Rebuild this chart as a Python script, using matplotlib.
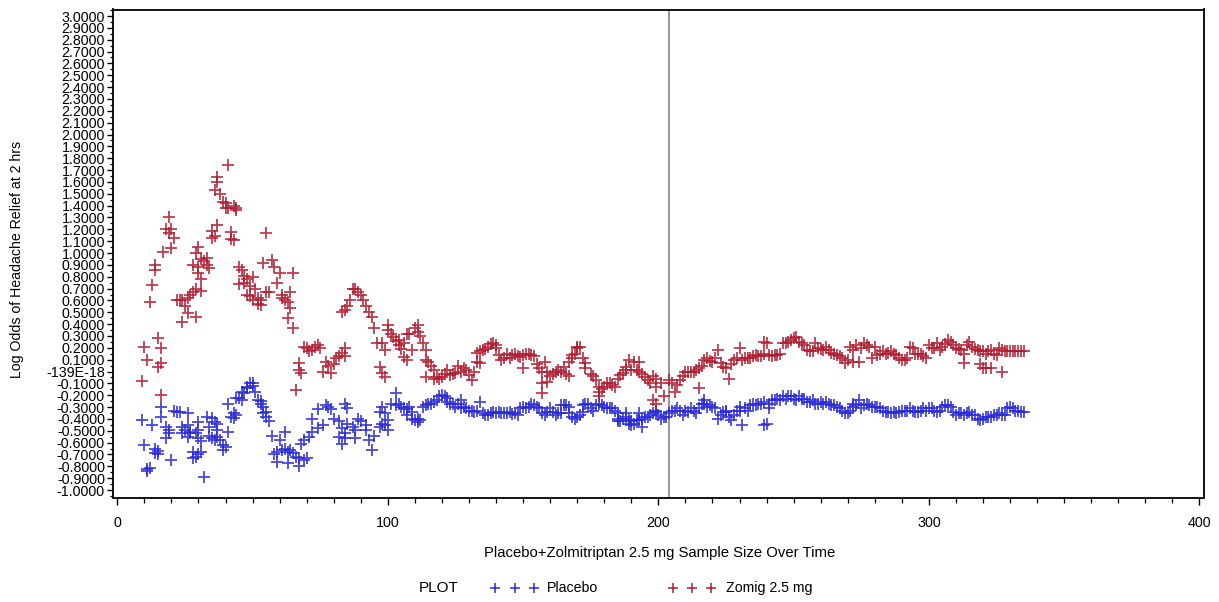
import matplotlib
matplotlib.use("Agg")
import matplotlib.pyplot as plt
from matplotlib.lines import Line2D
from matplotlib.ticker import FixedLocator, FixedFormatter, MultipleLocator

plt.rcParams['font.family'] = ['Liberation Sans', 'DejaVu Sans']

# Sample size (n) at which each running log-odds estimate was computed
zomig_n = [
    9, 10, 11, 12, 13, 14, 14, 15, 15, 16,
    16, 16, 17, 18, 19, 19, 20, 20, 21, 22,
    23, 24, 24, 25, 26, 26, 27, 28, 28, 29,
    29, 29, 30, 30, 30, 31, 31, 31, 32, 33,
    33, 34, 35, 35, 36, 36, 37, 37, 37, 38,
    39, 40, 40, 41, 41, 42, 42, 43, 43, 44,
    44, 45, 45, 46, 47, 47, 48, 48, 49, 49,
    50, 50, 51, 52, 52, 53, 53, 54, 55, 55,
    56, 57, 58, 59, 60, 61, 61, 62, 63, 63,
    64, 64, 65, 65, 66, 67, 67, 68, 69, 70,
    71, 72, 73, 74, 75, 76, 77, 78, 79, 80,
    81, 82, 83, 83, 84, 84, 84, 85, 86, 87,
    88, 89, 90, 91, 92, 93, 94, 95, 96, 97,
    98, 98, 99, 99, 100, 100, 101, 102, 103, 104,
    104, 105, 106, 106, 107, 107, 108, 109, 110, 111,
    111, 112, 113, 114, 114, 114, 115, 116, 117, 117,
    118, 119, 120, 121, 122, 123, 124, 125, 126, 127,
    128, 129, 130, 131, 132, 133, 133, 134, 134, 135,
    136, 137, 138, 139, 140, 140, 141, 142, 143, 144,
    145, 146, 147, 148, 149, 150, 150, 151, 152, 153,
    154, 155, 156, 157, 157, 157, 158, 159, 159, 160,
    161, 162, 163, 164, 165, 166, 167, 167, 168, 168,
    169, 170, 170, 171, 172, 173, 173, 175, 176, 177,
    178, 178, 178, 179, 180, 181, 182, 183, 184, 185,
    186, 187, 188, 188, 189, 190, 191, 192, 193, 193,
    194, 195, 196, 197, 198, 198, 199, 199, 199, 201,
    202, 204, 205, 206, 207, 208, 209, 210, 211, 212,
    213, 214, 215, 215, 216, 217, 218, 219, 220, 221,
    222, 223, 224, 225, 226, 227, 228, 229, 230, 231,
    232, 233, 234, 235, 236, 237, 238, 239, 239, 240,
    241, 242, 243, 244, 245, 246, 247, 248, 249, 250,
    251, 252, 253, 254, 255, 256, 257, 258, 259, 260,
    261, 262, 263, 264, 265, 266, 267, 268, 269, 270,
    271, 272, 272, 273, 274, 275, 276, 277, 278, 279,
    280, 281, 282, 283, 284, 285, 286, 287, 288, 289,
    290, 291, 292, 293, 294, 295, 296, 297, 298, 299,
    300, 301, 302, 303, 304, 305, 306, 307, 308, 309,
    310, 311, 312, 313, 313, 314, 315, 316, 317, 318,
    319, 319, 320, 320, 321, 321, 322, 323, 323, 324,
    325, 326, 327, 327, 328, 329, 330, 331, 332, 333,
    334, 335,
]
zomig_logodds = [
    -0.08, 0.21, 0.10, 0.59, 0.73, 0.90, 0.86, 0.28, 0.04, 0.20,
    0.07, -0.20, 1.01, 1.20, 1.30, 1.17, 1.04, 1.20, 1.13, 0.60,
    0.60, 0.42, 0.60, 0.55, 0.49, 0.62, 0.65, 0.67, 0.90, 1.00,
    0.70, 0.46, 1.05, 0.88, 0.83, 0.95, 0.78, 0.68, 0.93, 0.96,
    0.90, 0.87, 1.13, 1.19, 1.53, 1.14, 1.64, 1.60, 1.24, 1.50,
    1.43, 1.38, 1.42, 1.74, 1.38, 1.18, 1.12, 1.40, 1.11, 1.38,
    1.36, 0.88, 0.74, 0.86, 0.75, 0.81, 0.78, 0.65, 0.72, 0.64,
    0.80, 0.60, 0.70, 0.57, 0.62, 0.60, 0.56, 0.92, 1.17, 0.67,
    0.67, 0.94, 0.88, 0.75, 0.83, 0.65, 0.62, 0.60, 0.59, 0.45,
    0.67, 0.54, 0.83, 0.37, -0.16, 0.07, 0.01, -0.01, 0.21, 0.20,
    0.17, 0.18, 0.21, 0.22, 0.20, 0.00, 0.08, 0.05, -0.01, 0.06,
    0.11, 0.13, 0.16, 0.50, 0.20, 0.13, 0.52, 0.55, 0.60, 0.70,
    0.70, 0.67, 0.65, 0.60, 0.55, 0.50, 0.46, 0.37, 0.24, 0.04,
    -0.01, 0.24, -0.05, 0.18, 0.39, 0.35, 0.32, 0.29, 0.26, 0.27,
    0.22, 0.19, 0.24, 0.12, 0.10, 0.32, 0.32, 0.18, 0.37, 0.39,
    0.33, 0.30, 0.24, 0.10, 0.18, -0.05, 0.08, 0.05, 0.01, -0.06,
    -0.05, -0.06, -0.05, -0.02, 0.01, -0.03, -0.02, -0.01, 0.05, 0.00,
    0.03, 0.01, -0.03, -0.07, 0.00, 0.08, 0.16, 0.07, 0.17, 0.18,
    0.19, 0.21, 0.23, 0.24, 0.22, 0.20, 0.14, 0.10, 0.11, 0.15,
    0.11, 0.14, 0.15, 0.13, 0.12, 0.03, 0.14, 0.15, 0.15, 0.14,
    0.13, 0.06, 0.03, -0.10, -0.18, 0.00, 0.08, 0.00, -0.09, -0.04,
    -0.02, 0.00, 0.01, 0.00, 0.04, -0.02, -0.04, 0.08, 0.11, 0.14,
    0.15, 0.20, 0.21, 0.21, 0.11, 0.07, 0.03, -0.02, -0.04, -0.07,
    -0.13, -0.21, -0.17, -0.15, -0.13, -0.10, -0.10, -0.11, -0.13, -0.06,
    -0.03, -0.01, 0.01, 0.04, 0.10, 0.01, 0.08, 0.01, 0.08, 0.00,
    -0.02, -0.05, -0.07, -0.10, -0.04, -0.24, -0.06, -0.13, -0.27, -0.10,
    -0.21, -0.07, -0.10, -0.17, -0.11, -0.07, -0.04, 0.00, 0.00, 0.00,
    0.00, 0.01, -0.14, 0.03, 0.05, 0.10, 0.11, 0.09, 0.08, 0.11,
    0.18, 0.07, 0.04, 0.03, -0.06, 0.06, 0.10, 0.11, 0.20, 0.10,
    0.11, 0.11, 0.11, 0.13, 0.14, 0.13, 0.13, 0.15, 0.25, 0.24,
    0.14, 0.13, 0.14, 0.14, 0.15, 0.24, 0.24, 0.25, 0.27, 0.28,
    0.29, 0.25, 0.24, 0.22, 0.18, 0.17, 0.17, 0.24, 0.20, 0.19,
    0.18, 0.21, 0.18, 0.16, 0.15, 0.14, 0.13, 0.11, 0.07, 0.10,
    0.21, 0.08, 0.18, 0.22, 0.08, 0.20, 0.24, 0.22, 0.21, 0.11,
    0.21, 0.14, 0.15, 0.17, 0.15, 0.16, 0.17, 0.15, 0.14, 0.11,
    0.10, 0.10, 0.11, 0.21, 0.20, 0.15, 0.15, 0.15, 0.13, 0.11,
    0.22, 0.20, 0.20, 0.24, 0.18, 0.21, 0.23, 0.27, 0.25, 0.22,
    0.20, 0.19, 0.18, 0.15, 0.07, 0.22, 0.25, 0.21, 0.19, 0.18,
    0.17, 0.06, 0.17, 0.03, 0.15, 0.03, 0.17, 0.18, 0.03, 0.15,
    0.14, 0.20, 0.18, 0.00, 0.17, 0.17, 0.17, 0.17, 0.17, 0.17,
    0.17, 0.17,
]

placebo_n = [
    9, 10, 11, 11, 12, 13, 14, 14, 15, 15,
    16, 16, 18, 18, 19, 19, 20, 21, 22, 23,
    24, 24, 25, 26, 26, 26, 27, 27, 28, 28,
    29, 29, 30, 30, 30, 30, 31, 31, 32, 33,
    34, 34, 35, 35, 36, 36, 37, 37, 37, 38,
    39, 39, 40, 41, 41, 42, 43, 43, 44, 44,
    45, 46, 46, 47, 48, 48, 49, 50, 50, 51,
    52, 53, 53, 54, 54, 55, 55, 56, 57, 58,
    59, 59, 60, 61, 62, 62, 63, 63, 64, 65,
    66, 67, 67, 68, 69, 69, 70, 71, 72, 72,
    74, 74, 76, 77, 78, 79, 80, 82, 82, 83,
    83, 84, 84, 84, 85, 85, 87, 88, 88, 89,
    90, 92, 92, 93, 94, 95, 97, 97, 98, 98,
    99, 99, 100, 100, 101, 103, 103, 104, 105, 106,
    107, 107, 108, 109, 109, 110, 111, 111, 112, 113,
    114, 115, 116, 117, 118, 119, 120, 121, 122, 122,
    123, 124, 125, 126, 127, 127, 128, 129, 130, 131,
    132, 133, 134, 135, 136, 137, 138, 139, 140, 141,
    142, 143, 144, 145, 146, 147, 148, 149, 150, 151,
    152, 153, 154, 155, 156, 157, 158, 159, 160, 161,
    162, 163, 164, 164, 165, 166, 167, 167, 168, 169,
    170, 171, 172, 172, 173, 174, 175, 176, 177, 178,
    179, 180, 181, 182, 183, 184, 185, 185, 185, 186,
    187, 188, 188, 189, 189, 190, 190, 191, 192, 193,
    193, 194, 194, 195, 196, 197, 198, 199, 199, 200,
    201, 202, 203, 204, 205, 206, 207, 208, 209, 210,
    211, 212, 213, 214, 215, 216, 217, 217, 218, 219,
    220, 221, 222, 223, 224, 225, 225, 226, 227, 228,
    229, 230, 230, 231, 232, 233, 234, 235, 236, 237,
    238, 239, 239, 240, 241, 241, 242, 243, 244, 245,
    246, 247, 248, 249, 250, 251, 252, 253, 254, 255,
    256, 257, 258, 259, 260, 261, 262, 263, 264, 265,
    266, 267, 268, 269, 270, 271, 272, 272, 273, 274,
    275, 276, 277, 278, 279, 280, 281, 282, 283, 284,
    285, 286, 287, 288, 289, 290, 291, 292, 293, 294,
    295, 296, 297, 298, 299, 300, 301, 302, 303, 304,
    305, 306, 307, 308, 309, 310, 311, 312, 313, 314,
    315, 316, 317, 318, 319, 320, 321, 322, 323, 324,
    325, 326, 327, 328, 329, 330, 331, 332, 333, 334,
    335,
]
placebo_logodds = [
    -0.41, -0.62, -0.82, -0.84, -0.81, -0.45, -0.65, -0.69, -0.67, -0.70,
    -0.30, -0.38, -0.47, -0.56, -0.49, -0.52, -0.75, -0.33, -0.34, -0.34,
    -0.47, -0.52, -0.49, -0.35, -0.45, -0.55, -0.51, -0.52, -0.68, -0.73,
    -0.72, -0.52, -0.43, -0.49, -0.56, -0.70, -0.68, -0.59, -0.89, -0.38,
    -0.47, -0.54, -0.56, -0.39, -0.43, -0.58, -0.44, -0.49, -0.55, -0.58,
    -0.66, -0.62, -0.64, -0.51, -0.27, -0.38, -0.35, -0.39, -0.37, -0.22,
    -0.22, -0.24, -0.17, -0.18, -0.14, -0.13, -0.10, -0.10, -0.12, -0.17,
    -0.24, -0.27, -0.25, -0.30, -0.35, -0.34, -0.38, -0.42, -0.54, -0.70,
    -0.68, -0.76, -0.58, -0.66, -0.65, -0.51, -0.68, -0.77, -0.66, -0.69,
    -0.72, -0.80, -0.73, -0.61, -0.75, -0.58, -0.73, -0.55, -0.51, -0.40,
    -0.48, -0.32, -0.45, -0.28, -0.30, -0.32, -0.40, -0.42, -0.55, -0.48,
    -0.61, -0.52, -0.56, -0.27, -0.31, -0.44, -0.47, -0.49, -0.56, -0.40,
    -0.42, -0.45, -0.49, -0.58, -0.66, -0.54, -0.47, -0.34, -0.30, -0.44,
    -0.45, -0.35, -0.49, -0.41, -0.27, -0.18, -0.28, -0.27, -0.30, -0.31,
    -0.32, -0.37, -0.30, -0.34, -0.40, -0.41, -0.40, -0.43, -0.41, -0.30,
    -0.28, -0.27, -0.27, -0.26, -0.24, -0.21, -0.20, -0.21, -0.22, -0.26,
    -0.27, -0.27, -0.30, -0.27, -0.24, -0.31, -0.30, -0.31, -0.33, -0.33,
    -0.34, -0.33, -0.26, -0.35, -0.37, -0.37, -0.35, -0.34, -0.35, -0.34,
    -0.35, -0.35, -0.35, -0.34, -0.36, -0.35, -0.37, -0.31, -0.30, -0.31,
    -0.30, -0.27, -0.28, -0.30, -0.31, -0.35, -0.37, -0.34, -0.31, -0.34,
    -0.37, -0.35, -0.35, -0.28, -0.28, -0.28, -0.30, -0.35, -0.38, -0.40,
    -0.38, -0.37, -0.34, -0.28, -0.27, -0.27, -0.31, -0.33, -0.28, -0.27,
    -0.28, -0.30, -0.31, -0.31, -0.31, -0.33, -0.35, -0.42, -0.40, -0.42,
    -0.40, -0.35, -0.38, -0.41, -0.44, -0.42, -0.45, -0.44, -0.41, -0.35,
    -0.41, -0.40, -0.47, -0.38, -0.38, -0.37, -0.35, -0.33, -0.34, -0.37,
    -0.40, -0.38, -0.38, -0.35, -0.33, -0.33, -0.31, -0.33, -0.37, -0.33,
    -0.34, -0.31, -0.33, -0.35, -0.31, -0.27, -0.27, -0.24, -0.30, -0.28,
    -0.30, -0.31, -0.40, -0.37, -0.34, -0.34, -0.33, -0.38, -0.41, -0.37,
    -0.33, -0.33, -0.30, -0.45, -0.31, -0.33, -0.28, -0.27, -0.28, -0.27,
    -0.27, -0.26, -0.45, -0.44, -0.31, -0.27, -0.24, -0.24, -0.23, -0.24,
    -0.21, -0.23, -0.21, -0.21, -0.23, -0.24, -0.21, -0.23, -0.23, -0.26,
    -0.26, -0.24, -0.27, -0.27, -0.26, -0.27, -0.26, -0.27, -0.28, -0.28,
    -0.30, -0.31, -0.33, -0.35, -0.35, -0.33, -0.30, -0.27, -0.28, -0.24,
    -0.31, -0.28, -0.27, -0.28, -0.30, -0.30, -0.30, -0.31, -0.33, -0.34,
    -0.34, -0.35, -0.34, -0.35, -0.34, -0.33, -0.33, -0.33, -0.31, -0.33,
    -0.34, -0.34, -0.33, -0.31, -0.33, -0.31, -0.31, -0.33, -0.34, -0.33,
    -0.30, -0.28, -0.28, -0.30, -0.34, -0.37, -0.35, -0.35, -0.37, -0.35,
    -0.34, -0.37, -0.37, -0.40, -0.41, -0.40, -0.38, -0.38, -0.38, -0.37,
    -0.37, -0.35, -0.37, -0.37, -0.31, -0.30, -0.31, -0.33, -0.33, -0.34,
    -0.34,
]

# Interim-look reference line (sample size)
reference_n = 204

y_ticks = [round(-1.0 + 0.1 * i, 1) for i in range(41)]
y_tick_labels = ["-139E-18" if abs(v) < 1e-9 else f"{v:.4f}" for v in y_ticks]
x_ticks = [0, 100, 200, 300, 400]
x_tick_labels = ["0", "100", "200", "300", "400"]

series_labels = ["Placebo", "Zomig 2.5 mg"]
placebo_color = "#2a2ad6"
zomig_color = "#b01c30"

W, H = 1219, 602
PX = 72 / 100  # points per pixel at 100 dpi
fig = plt.figure(figsize=(W / 100, H / 100), dpi=100)
ax_left, ax_right, ax_top, ax_bottom = 113, 1204, 9.5, 497.5
ax = fig.add_axes([ax_left / W, 1 - ax_bottom / H,
                   (ax_right - ax_left) / W, (ax_bottom - ax_top) / H])

ax.axvline(reference_n, color="#8c8c8c", lw=1.3, zorder=1)

marker_kw = dict(linestyle="none", marker="+", markersize=8.5, markeredgewidth=1.3, alpha=0.85)
ax.plot(placebo_n, placebo_logodds, color=placebo_color, zorder=2, **marker_kw)
ax.plot(zomig_n, zomig_logodds, color=zomig_color, zorder=3, **marker_kw)

ax.set_xlim(-1.6, 401.7)
ax.set_ylim(-1.063, 3.055)

ax.yaxis.set_major_locator(FixedLocator(y_ticks))
ax.yaxis.set_major_formatter(FixedFormatter(y_tick_labels))
ax.yaxis.set_minor_locator(MultipleLocator(0.05))
ax.xaxis.set_major_locator(FixedLocator(x_ticks))
ax.xaxis.set_major_formatter(FixedFormatter(x_tick_labels))
ax.xaxis.set_minor_locator(MultipleLocator(10))

ax.tick_params(axis="y", which="major", length=6 * PX, width=1.0, labelsize=10.3, pad=1.5)
ax.tick_params(axis="y", which="minor", length=3.5 * PX, width=0.9)
ax.tick_params(axis="x", which="major", length=7 * PX, width=1.0, labelsize=10.3, pad=8)
ax.tick_params(axis="x", which="minor", length=4.5 * PX, width=0.9)
for sp in ax.spines.values():
    sp.set_linewidth(1.3)

fig.text(17 / W, 1 - 259 / H, "Log Odds of Headache Relief at 2 hrs",
         rotation=90, ha="center", va="center", fontsize=10.2)
fig.text(660 / W, 1 - 553 / H, "Placebo+Zolmitriptan 2.5 mg Sample Size Over Time",
         ha="center", va="center", fontsize=10.7)

# Legend row below the plot
legend_y = 1 - 588 / H
fig.text(419 / W, legend_y, "PLOT", ha="left", va="center", fontsize=11)
for xs, color, label, text_x in (([495, 515, 534], placebo_color, series_labels[0], 547),
                                 ([673, 692, 711], zomig_color, series_labels[1], 726)):
    fig.add_artist(Line2D([x / W for x in xs], [legend_y] * 3, transform=fig.transFigure,
                          linestyle="none", marker="+", markersize=7,
                          markeredgewidth=1.1, color=color))
    fig.text(text_x / W, legend_y, label, ha="left", va="center", fontsize=10.2)

fig.savefig("out.png", dpi=100)
